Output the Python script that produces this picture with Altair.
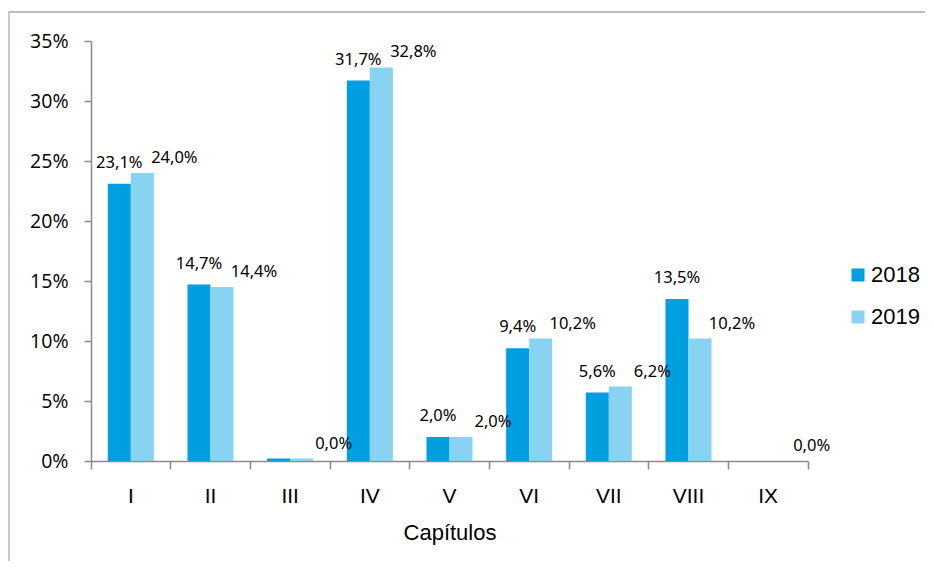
import altair as alt
import pandas as pd

chapters = ["I", "II", "III", "IV", "V", "VI", "VII", "VIII", "IX"]
years = ["2018", "2019"]
values_2018 = [23.1, 14.7, 0.2, 31.7, 2.0, 9.4, 5.7, 13.5, 0.0]
values_2019 = [24.0, 14.5, 0.2, 32.8, 2.0, 10.2, 6.2, 10.2, 0.0]
labels_2018 = ["23,1%", "14,7%", "", "31,7%", "2,0%", "9,4%", "5,6%", "13,5%", ""]
labels_2019 = ["24,0%", "14,4%", "0,0%", "32,8%", "2,0%", "10,2%", "6,2%", "10,2%", "0,0%"]
y_ticks = [0, 5, 10, 15, 20, 25, 30, 35]
colors = ["#009FE0", "#88D2F2"]

rows = []
for c, v, l in zip(chapters, values_2018, labels_2018):
    rows.append({"cap": c, "year": "2018", "value": v, "label": l})
for c, v, l in zip(chapters, values_2019, labels_2019):
    rows.append({"cap": c, "year": "2019", "value": v, "label": l})
df = pd.DataFrame(rows)

W, H = 717, 420

x_enc = alt.X(
    "cap:N",
    sort=chapters,
    scale=alt.Scale(paddingInner=0, paddingOuter=0),
    axis=alt.Axis(
        title="Capítulos",
        titleFont="Liberation Sans",
        titleFontSize=22,
        titleFontWeight="normal",
        titleColor="#000000",
        titlePadding=16,
        labelAngle=0,
        labelFont="Liberation Sans",
        labelFontSize=21,
        labelColor="#000000",
        labelPadding=16,
        labelOffset=0,
        bandPosition=1,
        tickExtra=True,
        tickSize=8,
        tickColor="#8a8a8a",
        tickWidth=1.5,
        domainColor="#8a8a8a",
        domainWidth=1.5,
        grid=False,
    ),
)
xo_enc = alt.XOffset("year:N", sort=years, scale=alt.Scale(paddingInner=0, paddingOuter=0.73))
y_enc = alt.Y(
    "value:Q",
    scale=alt.Scale(domain=[0, 35], nice=False),
    axis=alt.Axis(
        title=None,
        values=y_ticks,
        labelExpr="datum.value + '%'",
        labelFont="Open Sans",
        labelFontSize=19.5,
        labelColor="#000000",
        labelPadding=16,
        tickSize=7,
        tickColor="#8a8a8a",
        tickWidth=1.5,
        domainColor="#8a8a8a",
        domainWidth=1.5,
        grid=False,
    ),
)

base = alt.Chart(df)

bars = base.mark_bar().encode(
    x=x_enc,
    xOffset=xo_enc,
    y=y_enc,
    color=alt.Color(
        "year:N",
        sort=years,
        scale=alt.Scale(domain=years, range=colors),
        legend=alt.Legend(
            title=None,
            orient="none",
            legendX=756,
            legendY=223,
            symbolType="square",
            symbolSize=169,
            symbolStrokeWidth=0,
            labelFont="Liberation Sans",
            labelFontSize=22,
            labelColor="#000000",
            labelOffset=2,
            rowPadding=20,
        ),
    ),
)

text18 = base.transform_filter(alt.datum.year == "2018").mark_text(
    font="Noto Sans", fontSize=16.5, color="#000000", baseline="middle", dy=-21
).encode(x=alt.X("cap:N", sort=chapters), xOffset=alt.XOffset("year:N", sort=years), y="value:Q", text="label:N")

text19 = base.transform_filter(alt.datum.year == "2019").mark_text(
    font="Noto Sans", fontSize=16.5, color="#000000", baseline="middle", dx=32, dy=-15
).encode(x=alt.X("cap:N", sort=chapters), xOffset=alt.XOffset("year:N", sort=years), y="value:Q", text="label:N")

frame = alt.Chart(alt.Data(values=[{"k": 1}]))
border_top = frame.mark_rect(
    x=-83, x2=W + 117, y=-30, y2=-28, clip=False, color="#bdbdbd"
).encode(opacity=alt.value(1))
border_left = frame.mark_rect(
    x=-83, x2=-81, y=-30, y2=H + 100, clip=False, color="#c8c8c8"
).encode(opacity=alt.value(1))

chart = alt.layer(border_top, border_left, bars, text18, text19).properties(
    width=W,
    height=H,
    autosize=alt.AutoSizeParams(type="none"),
    padding={"left": 83, "top": 33, "right": 117, "bottom": 100},
).configure_view(stroke=None)

chart.save("out.html", embed_options={"renderer": "svg", "actions": False})
